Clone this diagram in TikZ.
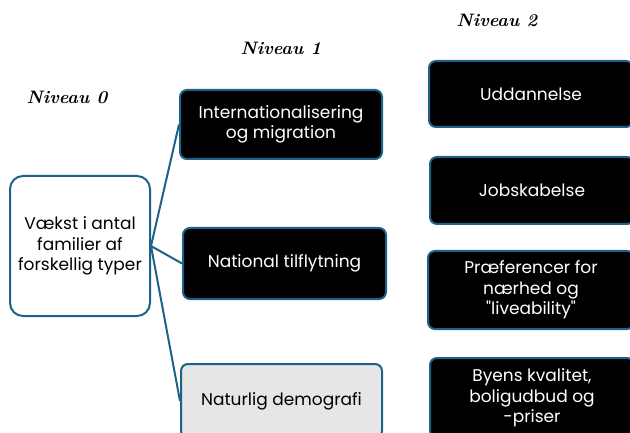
\documentclass[tikz,border=0pt]{standalone}
\usepackage{fontspec}
\newfontfamily\boxfont{Poppins}
\usepackage{tikz}
\definecolor{edgeblue}{RGB}{28,98,138}
\definecolor{lightgrey}{RGB}{230,230,230}

\begin{document}
\begin{tikzpicture}[x=1pt,y=-1pt,
                    box/.style={draw=edgeblue,line width=2pt,rounded corners=7pt,align=center,
                                inner sep=0pt,font=\boxfont\fontsize{17}{20.5}\selectfont},
                    blk/.style={box,fill=black,text=white},
                    lvl/.style={font=\fontsize{18}{20}\selectfont\bfseries\itshape}]
  \useasboundingbox (0,0) rectangle (630,433);
  \clip (0,0) rectangle (630,433);
  % level headings
  \node[lvl] (l0) at (67,97) {Niveau \oldstylenums{0}};
  \node[lvl] (l1) at (281,48) {Niveau \oldstylenums{1}};
  \node[lvl] (l2) at (497,20) {Niveau \oldstylenums{2}};
  % level 0
  \node[box,fill=white,rounded corners=13pt,minimum width=140pt,minimum height=140pt] (root) at (80,246)
    {V\ae kst i antal\\familier af\\forskellig typer};
  % level 1
  \node[blk,minimum width=202pt,minimum height=69pt] (int) at (281,124.5) {Internationalisering\\og migration};
  \node[blk,minimum width=203pt,minimum height=71pt] (nat) at (284.5,263.5) {National tilflytning};
  \node[box,fill=lightgrey,minimum width=201pt,minimum height=74pt] (dem) at (281.5,401) {Naturlig demografi};
  % level 2
  \node[blk,minimum width=204pt,minimum height=66pt] (udd) at (531,94) {Uddannelse};
  \node[blk,minimum width=204pt,minimum height=67pt] (job) at (532,190.5) {Jobskabelse};
  \node[blk,minimum width=206pt,minimum height=78pt] (pref) at (531,290) {Pr\ae ferencer for\\n\ae rhed og\\"liveability"};
  \node[blk,minimum width=204pt,minimum height=80pt] (byen) at (532,398) {Byens kvalitet,\\boligudbud og\\-priser};
  % connectors
  \draw[edgeblue,line width=2pt] (root.east)--(int.west) (root.east)--(nat.west) (root.east)--(dem.west);
\end{tikzpicture}
\end{document}
